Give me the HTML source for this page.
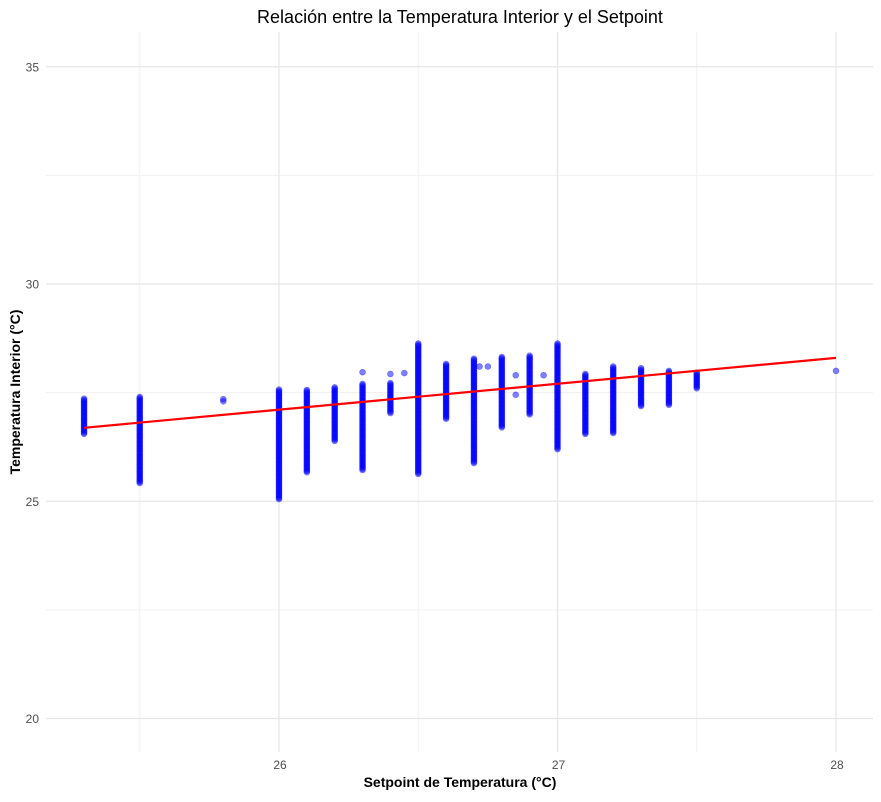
<!DOCTYPE html>
<html><head><meta charset="utf-8"><style>
body{margin:0;background:#fff;}
svg text{font-family:"Liberation Sans",Arial,sans-serif;}
</style></head><body>
<svg id="chart" width="881" height="797" viewBox="0 0 881 797" xmlns="http://www.w3.org/2000/svg">
<rect width="881" height="797" fill="#fff"/>
<g id="grid"></g>
<g id="pts"></g>
<g id="fit"></g>
<g id="axes"></g>
<text x="460" y="23" font-size="18" text-anchor="middle" fill="#000">Relación entre la Temperatura Interior y el Setpoint</text>
<text x="460" y="787" font-size="14" font-weight="bold" text-anchor="middle" fill="#000">Setpoint de Temperatura (°C)</text>
<text transform="translate(20,392) rotate(-90)" font-size="14" font-weight="bold" text-anchor="middle" fill="#000">Temperatura Interior (°C)</text>
</svg>
<script>
const setpoints=[25.3,25.5,26.0,26.1,26.2,26.3,26.4,26.5,26.6,26.7,26.8,26.9,27.0,27.1,27.2,27.3,27.4,27.5];
const minTemp=[26.55,25.42,25.05,25.67,26.39,25.72,27.03,25.63,26.9,25.88,26.7,27.0,26.2,26.55,26.57,27.19,27.22,27.6];
const maxTemp=[27.38,27.4,27.58,27.58,27.63,27.7,27.72,28.64,28.18,28.3,28.32,28.37,28.64,27.95,28.1,28.07,28.0,27.97];
const outX=[25.8,25.8,26.3,26.4,26.45,26.72,26.75,26.85,26.85,26.95,28.0];
const outY=[27.35,27.3,27.97,27.93,27.95,28.1,28.1,27.45,27.9,27.9,28.0];
const fitX=[25.3,28.0];
const fitY=[26.69,28.3];
const xTicks=[26,27,28];
const xMinor=[25.5,26.5,27.5];
const yTicks=[20,25,30,35];
const yMinor=[22.5,27.5,32.5];

const NS="http://www.w3.org/2000/svg";
const L=46,R=873,T=32,B=752;
const sx=v=>279+(v-26)*278.5;
const sy=v=>284-(v-30)*43.45;
function mk(tag,attrs,parent){const e=document.createElementNS(NS,tag);for(const k in attrs)e.setAttribute(k,attrs[k]);parent.appendChild(e);return e;}
const grid=document.getElementById('grid'),pts=document.getElementById('pts'),fit=document.getElementById('fit'),axes=document.getElementById('axes');
yMinor.forEach(v=>{const l=mk('line',{x1:L,x2:R,y1:sy(v),y2:sy(v),stroke:'#f0f0f0','stroke-width':1},grid);

});
xMinor.forEach(v=>{const l=mk('line',{x1:sx(v),x2:sx(v),y1:T,y2:B,stroke:'#f0f0f0','stroke-width':1},grid);

});
yTicks.forEach(v=>{const l=mk('line',{x1:L,x2:R,y1:sy(v),y2:sy(v),stroke:'#e6e6e6','stroke-width':1.2},grid);


const t=mk('text',{x:39,y:sy(v)+4.5,'font-size':12,'text-anchor':'end',fill:'#4d4d4d'},axes);t.textContent=v;

});
xTicks.forEach(v=>{const l=mk('line',{x1:sx(v),x2:sx(v),y1:T,y2:B,stroke:'#e6e6e6','stroke-width':1.2},grid);


const t=mk('text',{x:sx(v)+1,y:769,'font-size':12,'text-anchor':'middle',fill:'#4d4d4d'},axes);t.textContent=v;

});
setpoints.forEach((s,i)=>{for(let v=minTemp[i];v<=maxTemp[i]+1e-9;v+=0.03){
const c=mk('circle',{cx:sx(s),cy:sy(v),r:3,fill:'#0000ff','fill-opacity':0.5,stroke:'#0000ff','stroke-opacity':0.4,'stroke-width':0.6},pts);

}});
outX.forEach((s,i)=>{const c=mk('circle',{cx:sx(s),cy:sy(outY[i]),r:3,fill:'#0000ff','fill-opacity':0.5,stroke:'#0000ff','stroke-opacity':0.4,'stroke-width':0.6},pts);

});
const fl=mk('line',{x1:sx(fitX[0]),y1:sy(fitY[0]),x2:sx(fitX[1]),y2:sy(fitY[1]),stroke:'#ff0000','stroke-width':2.2},fit);


</script>
</body></html>
